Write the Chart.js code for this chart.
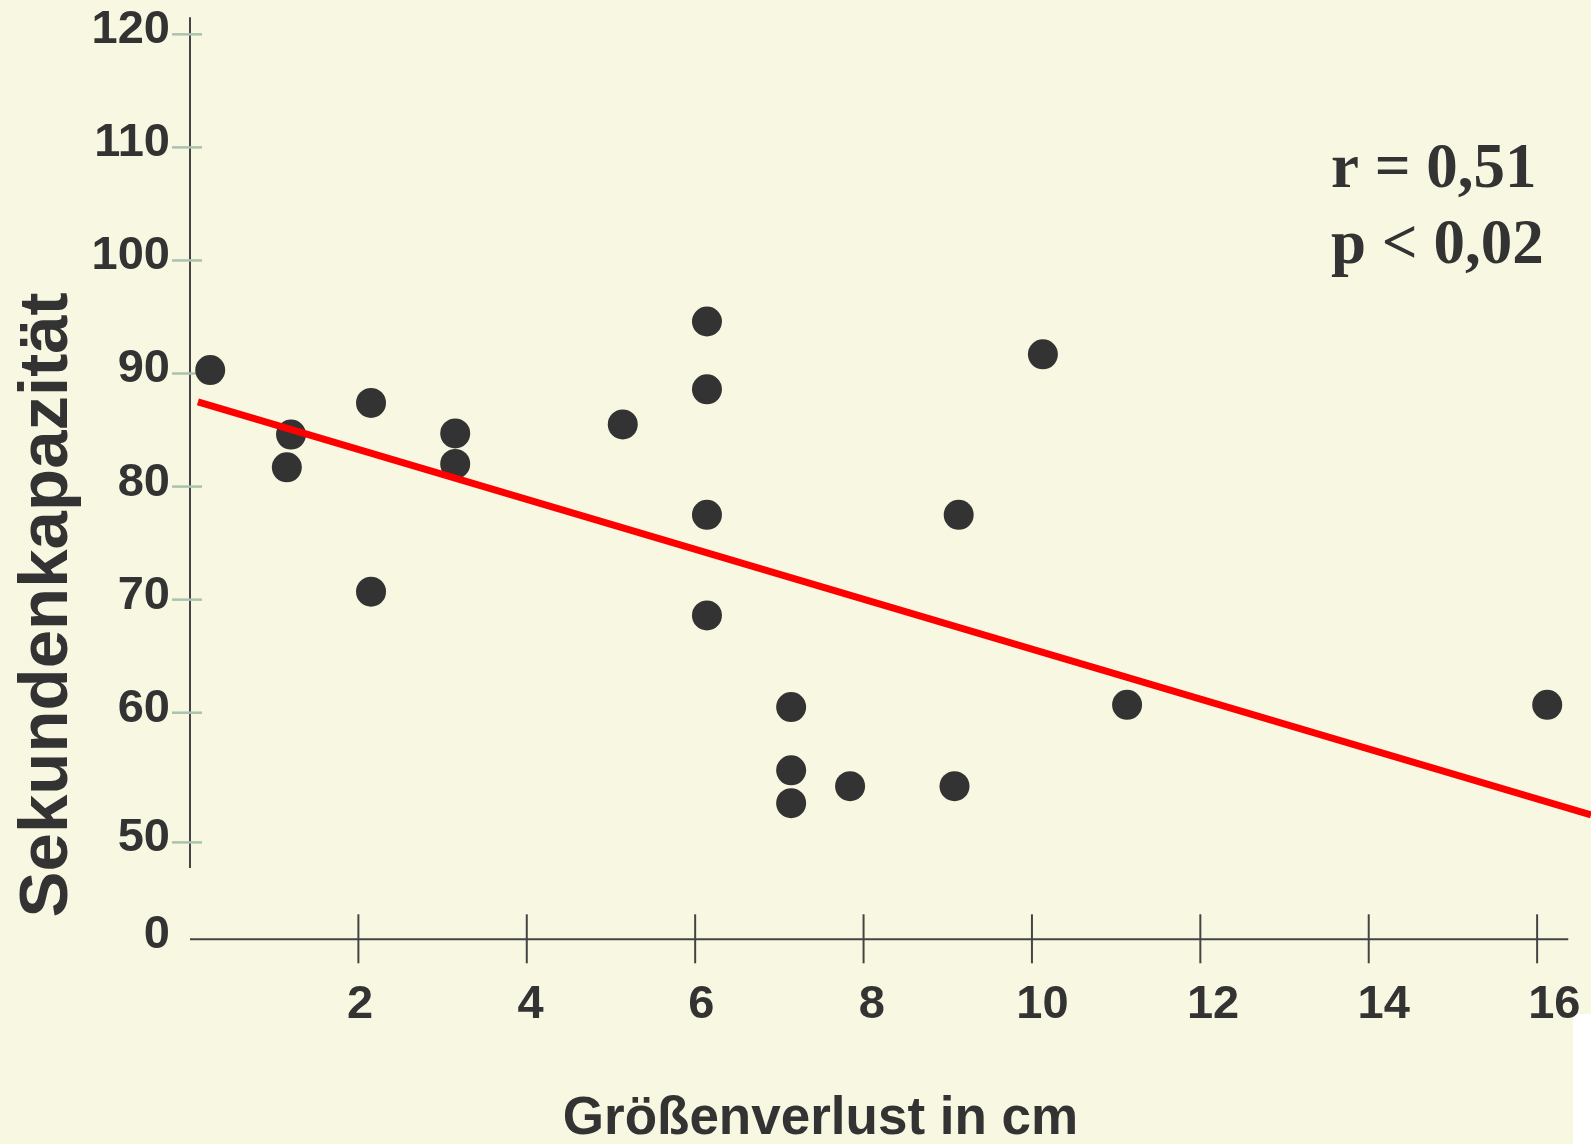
<!DOCTYPE html>
<html>
<head>
<meta charset="utf-8">
<script src="https://cdn.jsdelivr.net/npm/chart.js@4"></script>
<style>
  html, body { margin: 0; padding: 0; background: #F8F8E2; }
  #wrap { position: relative; width: 1591px; height: 1144px; }
  canvas { display: block; }
</style>
</head>
<body>
<div id="wrap"><canvas id="c" width="1591" height="1144"></canvas></div>
<script>
// ---- data ----
const xValues = [0.24, 1.20, 1.15, 2.15, 2.15, 3.15, 3.15, 5.14, 6.14, 6.14, 6.14, 6.14, 7.14, 7.14, 7.14, 7.84, 9.08, 9.13, 10.13, 11.13, 16.12];
const yValues = [90.3, 84.6, 81.7, 87.4, 70.7, 84.7, 82.0, 85.5, 94.6, 88.6, 77.5, 68.6, 60.5, 54.9, 52.0, 53.5, 53.5, 77.5, 91.7, 60.7, 60.7];
const trendX = [0.094, 16.64];
const trendY = [87.5, 50.96];
const xTickValues = [2, 4, 6, 8, 10, 12, 14, 16];
const xTickLabels = ['2', '4', '6', '8', '10', '12', '14', '16'];
const yTickValues = [39.959, 48.53, 60, 70, 80, 90, 100, 110, 120];
const yTickLabels = ['0', '50', '60', '70', '80', '90', '100', '110', '120'];
const xTitle = 'Größenverlust in cm';
const yTitle = 'Sekundenkapazität';
const statLines = ['r = 0,51', 'p < 0,02'];

// ---- styling ----
const INK = '#333333';
const SANS = '"Liberation Sans", Arial, sans-serif';
const SERIF = '"Liberation Serif", "Times New Roman", serif';

const points = xValues.map((x, i) => ({ x: x, y: yValues[i] }));
const trend = trendX.map((x, i) => ({ x: x, y: trendY[i] }));

function zeroPad(scale) {
  scale.paddingLeft = 0; scale.paddingRight = 0;
  scale.paddingTop = 0; scale.paddingBottom = 0;
}

const decor = {
  id: 'decor',
  beforeDraw(chart) {
    const ctx = chart.ctx;
    ctx.save();
    ctx.fillStyle = '#F8F8E2';
    ctx.fillRect(0, 0, chart.width, chart.height);
    ctx.fillStyle = '#FFFFFF';
    ctx.fillRect(1573, 1014, chart.width - 1573, chart.height - 1014);
    ctx.restore();
  },
  beforeDatasetsDraw(chart) {
    const ctx = chart.ctx;
    const x = chart.scales.x, y = chart.scales.y;
    ctx.save();
    // y axis line (broken at the bottom)
    const ax = x.getPixelForValue(0);
    ctx.strokeStyle = '#444444';
    ctx.lineWidth = 2;
    ctx.beginPath();
    ctx.moveTo(ax, y.getPixelForValue(121.5));
    ctx.lineTo(ax, y.getPixelForValue(46.27));
    ctx.stroke();
    // x axis line
    const ay = y.getPixelForValue(y.min);
    ctx.beginPath();
    ctx.moveTo(ax, ay);
    ctx.lineTo(x.getPixelForValue(16.37), ay);
    ctx.stroke();
    // x tick marks
    xTickValues.forEach(v => {
      const px = x.getPixelForValue(v);
      ctx.beginPath();
      ctx.moveTo(px, ay - 25);
      ctx.lineTo(px, ay + 24);
      ctx.stroke();
    });
    // y tick marks
    ctx.strokeStyle = '#A9C3AE';
    ctx.lineWidth = 2.5;
    yTickValues.forEach(v => {
      if (v < 45) return;
      const py = y.getPixelForValue(v);
      ctx.beginPath();
      ctx.moveTo(ax - 18, py);
      ctx.lineTo(ax + 12, py);
      ctx.stroke();
    });
    ctx.restore();
  },
  afterDraw(chart) {
    const ctx = chart.ctx;
    ctx.save();
    ctx.fillStyle = INK;
    // x title
    ctx.font = 'bold 53px ' + SANS;
    ctx.textAlign = 'center';
    ctx.textBaseline = 'alphabetic';
    ctx.fillText(xTitle, 820.5, 1134);
    // y title
    ctx.save();
    ctx.translate(67, 605);
    ctx.rotate(-Math.PI / 2);
    ctx.font = 'bold 69px ' + SANS;
    ctx.textAlign = 'center';
    ctx.fillText(yTitle, 0, 0);
    ctx.restore();
    // statistics
    ctx.font = 'bold 63px ' + SERIF;
    ctx.textAlign = 'left';
    ctx.fillText(statLines[0], 1331, 187);
    ctx.fillText(statLines[1], 1331, 263);
    ctx.restore();
  }
};

new Chart(document.getElementById('c'), {
  data: {
    datasets: [
      {
        type: 'line',
        data: trend,
        borderColor: '#FF0000',
        borderWidth: 7,
        pointRadius: 0,
        fill: false,
        clip: false,
        order: 0
      },
      {
        type: 'scatter',
        data: points,
        backgroundColor: INK,
        borderColor: INK,
        borderWidth: 0,
        pointRadius: 15,
        pointHoverRadius: 15,
        clip: false,
        order: 1
      }
    ]
  },
  options: {
    responsive: false,
    animation: false,
    events: [],
    layout: { autoPadding: false, padding: { top: 17.35, left: 0, right: 0, bottom: 0 } },
    plugins: { legend: { display: false }, tooltip: { enabled: false } },
    scales: {
      x: {
        type: 'linear',
        display: false,
        min: 0,
        max: 16.64,
        ticks: { display: false },
        afterFit(scale) { scale.height = 0; zeroPad(scale); }
      },
      xl: {
        type: 'linear',
        position: 'bottom',
        min: 0.007,
        max: 16.43,
        grid: { display: false, drawTicks: false },
        border: { display: false },
        afterBuildTicks(scale) { scale.ticks = xTickValues.map(v => ({ value: v })); },
        afterFit(scale) { scale.height = 204.7; zeroPad(scale); },
        ticks: {
          autoSkip: false,
          maxRotation: 0,
          padding: 38,
          color: INK,
          font: { family: SANS, size: 47, weight: 'bold' },
          callback: (v, i) => xTickLabels[i]
        }
      },
      y: {
        type: 'linear',
        min: 39.959,
        max: 121.5,
        grid: { display: false, drawTicks: false },
        border: { display: false },
        afterBuildTicks(scale) { scale.ticks = yTickValues.map(v => ({ value: v })); },
        afterFit(scale) { scale.width = 190; zeroPad(scale); },
        ticks: {
          autoSkip: false,
          padding: 20,
          labelOffset: -4,
          color: INK,
          font: { family: SANS, size: 47, weight: 'bold' },
          callback: (v, i) => yTickLabels[i]
        }
      }
    }
  },
  plugins: [decor]
});
</script>
</body>
</html>
